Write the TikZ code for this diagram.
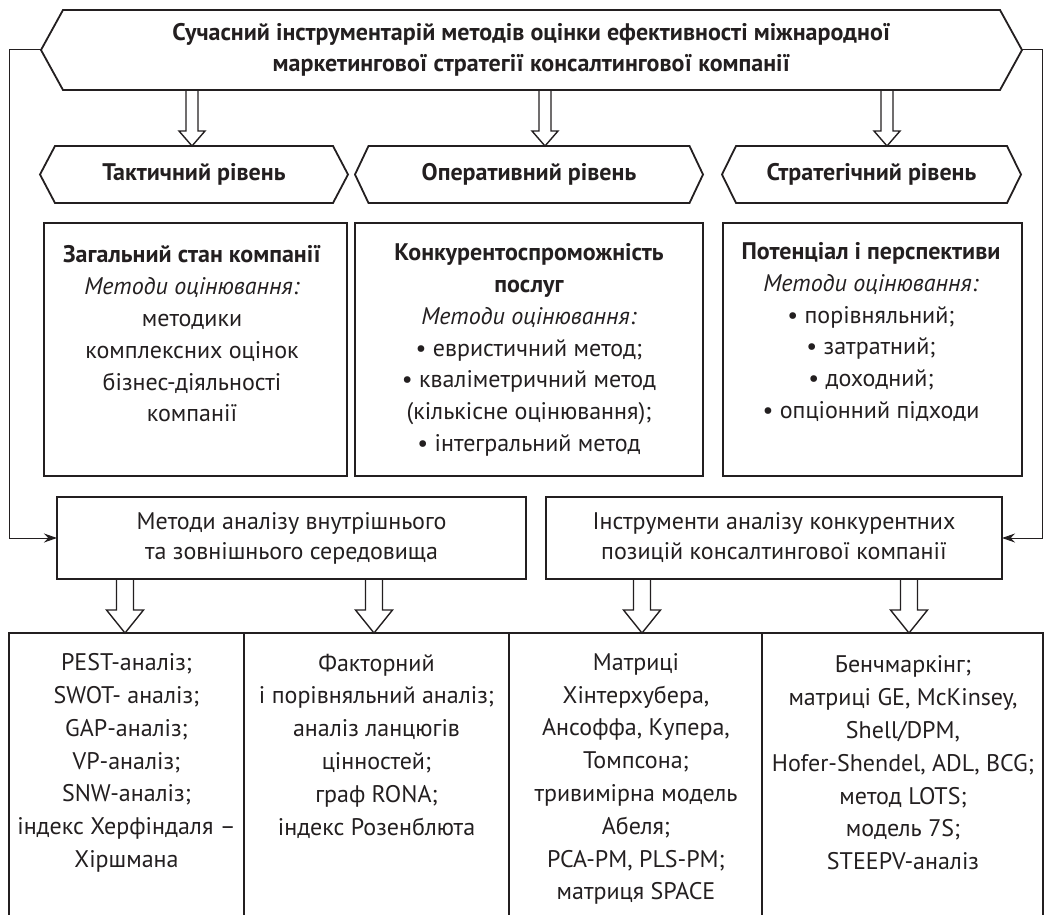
\documentclass[tikz,border=0pt]{standalone}
\usepackage{fontspec}
\setmainfont{PT Sans}
\usetikzlibrary{arrows.meta,calc}
\definecolor{ink}{HTML}{231F20}
\newcommand\hollowdown[6]{% x, source node, target node, shaft half width, head half width, head length
  \draw[hollowarr] let \p1=(#2.south), \p2=(#3.north) in
    (#1pt-#4pt,\y1) -- (#1pt-#4pt,\y2+#6pt) -- (#1pt-#5pt,\y2+#6pt) -- (#1pt,\y2)
    -- (#1pt+#5pt,\y2+#6pt) -- (#1pt+#4pt,\y2+#6pt) -- (#1pt+#4pt,\y1);}
\newcommand\hexframe[2]{%
  \draw[frame] ($(#1.north west)+(#2,0)$) -- ($(#1.north east)+(-#2,0)$) -- (#1.east)
    -- ($(#1.south east)+(-#2,0)$) -- ($(#1.south west)+(#2,0)$) -- (#1.west) -- cycle;}
\newcommand\openbox[1]{%
  \draw[frame] (#1.south west) -- (#1.north west) -- (#1.north east) -- (#1.south east);}
\begin{document}
\begin{tikzpicture}[x=1pt,y=-1pt,
  every node/.style={inner sep=0pt,outer sep=0pt,text=ink,align=center},
  frame/.style={draw=ink,line width=1.8pt,line join=miter},
  hollowarr/.style={draw=ink,line width=1.4pt,line join=miter},
  linkline/.style={draw=ink,line width=1pt},
  body/.style={font=\fontsize{24}{31.8}\selectfont},
  headf/.style={font=\fontsize{24}{31.5}\selectfont\bfseries},
  midf/.style={font=\fontsize{24}{30}\selectfont},
  bottomf/.style={font=\fontsize{24}{32.8}\selectfont},
]
\useasboundingbox (0,0) rectangle (1044,915);

% top banner
\node[minimum width=981pt,minimum height=80pt,headf] (banner) at (531.5,50)
  {Сучасний інструментарій методів оцінки ефективності міжнародної\\маркетингової стратегії консалтингової компанії};
\hexframe{banner}{22}

% level headers
\node[minimum width=308pt,minimum height=57pt,headf] (tact) at (194,174.5) {Тактичний рівень};
\hexframe{tact}{15}
\node[minimum width=348pt,minimum height=57pt,headf] (oper) at (529,174.5) {Оперативний рівень};
\hexframe{oper}{13.5}
\node[minimum width=299pt,minimum height=57pt,headf] (strat) at (871.5,174.5) {Стратегічний рівень};
\hexframe{strat}{14}

% level boxes
\node[frame,minimum width=303pt,minimum height=253pt] (gen) at (195.5,349.5) {};
\node[body] (gentext) at (192,334) {\textbf{Загальний стан компанії}\\\textit{Методи оцінювання:}\\методики\\комплексних оцінок\\бізнес-діяльності\\компанії};
\node[frame,minimum width=348pt,minimum height=253pt] (comp) at (529,349.5) {};
\node[body] (comptext) at (529,350) {\textbf{Конкурентоспроможність}\\\textbf{послуг}\\\textit{Методи оцінювання:}\\• евристичний метод;\\• кваліметричний метод\\(кількісне оцінювання);\\• інтегральний метод};
\node[frame,minimum width=299pt,minimum height=253pt] (pot) at (872.5,349.5) {};
\node[body] (pottext) at (871,332) {\textbf{Потенціал і перспективи}\\\textit{Методи оцінювання:}\\• порівняльний;\\• затратний;\\• доходний;\\• опціонний підходи};

% middle boxes
\node[frame,minimum width=469pt,minimum height=82pt,midf] (mA) at (291.5,538) {Методи аналізу внутрішнього\\та зовнішнього середовища};
\node[frame,minimum width=456pt,minimum height=82pt,midf] (mB) at (774,538) {Інструменти аналізу конкурентних\\позицій консалтингової компанії};

% bottom columns
\node[minimum width=235pt,minimum height=282pt] (c1) at (126.5,774) {};
\node[minimum width=265pt,minimum height=282pt] (c2) at (376.5,774) {};
\node[minimum width=253pt,minimum height=282pt] (c3) at (635.5,774) {};
\node[minimum width=281pt,minimum height=282pt] (c4) at (902.5,774) {};
\openbox{c1}\openbox{c2}\openbox{c3}\openbox{c4}
\node[bottomf] (c1text) at (126.5,763) {PEST-аналіз;\\SWOT- аналіз;\\GAP-аналіз;\\VP-аналіз;\\SNW-аналіз;\\індекс Херфіндаля –\\Хіршмана};
\node[bottomf] (c2text) at (376.5,746) {Факторний\\і порівняльний аналіз;\\аналіз ланцюгів\\цінностей;\\граф RONA;\\індекс Розенблюта};
\node[bottomf] (c3text) at (636,779) {Матриці\\Хінтерхубера,\\Ансоффа, Купера,\\Томпсона;\\тривимірна модель\\Абеля;\\PCA-PM, PLS-PM;\\матриця SPACE};
\node[bottomf] (c4text) at (903,763) {Бенчмаркінг;\\матриці GE, McKinsey,\\Shell/DPM,\\Hofer-Shendel, ADL, BCG;\\метод LOTS;\\модель 7S;\\STEEPV-аналіз};

% hollow arrows
\hollowdown{192}{banner}{tact}{6}{13}{15}
\hollowdown{545}{banner}{oper}{6}{13}{15}
\hollowdown{887}{banner}{strat}{6}{13}{15}
\hollowdown{125}{mA}{c1}{8.5}{18.5}{23}
\hollowdown{374}{mA}{c2}{8.5}{18.5}{23}
\hollowdown{642}{mB}{c3}{8.5}{18.5}{23}
\hollowdown{909}{mB}{c4}{8.5}{18.5}{23}

% side connectors
\draw[linkline,-{Stealth[length=13pt,width=9pt]}] (banner.west) -- ++(-32,0) |- (mA.west);
\draw[linkline,-{Stealth[length=13pt,width=9pt]}] (banner.east) -- ++(20,0) |- (mB.east);
\end{tikzpicture}
\end{document}
